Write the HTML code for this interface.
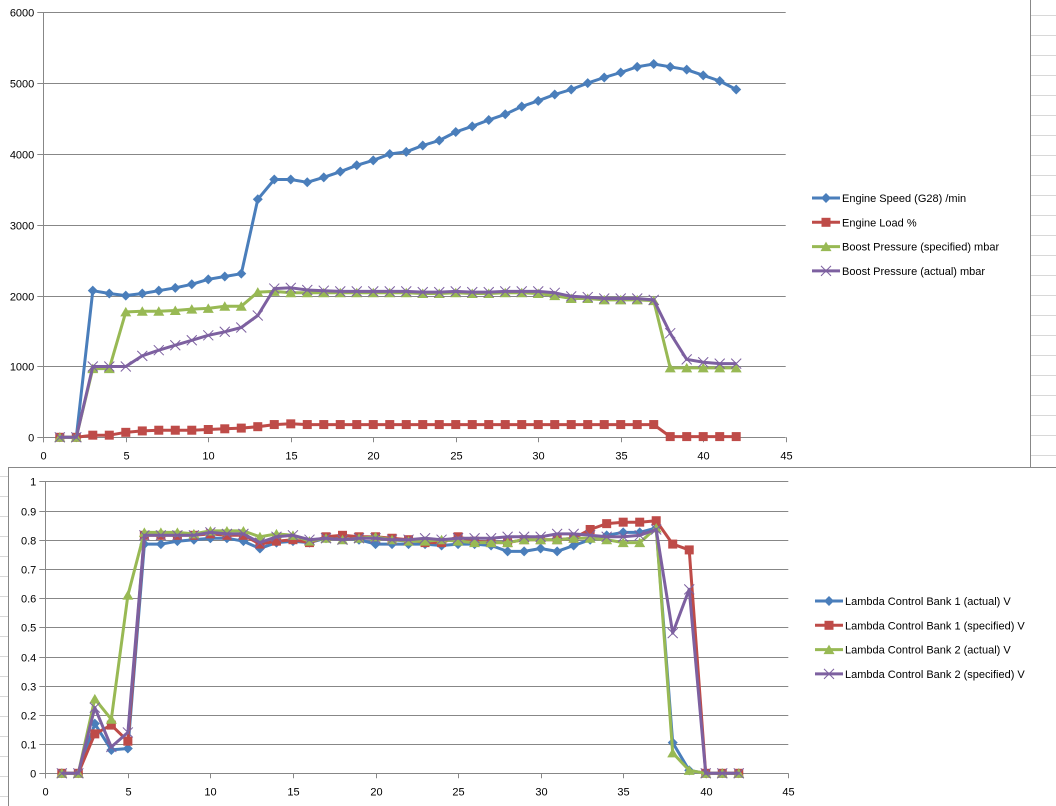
<!DOCTYPE html>
<html><head><meta charset="utf-8">
<style>
html,body{margin:0;padding:0;background:#fff;}
body{width:1056px;height:806px;overflow:hidden;position:relative;font-family:"Liberation Sans",sans-serif;}
svg{position:absolute;left:0;top:0;}
text{font-family:"Liberation Sans",sans-serif;font-size:11px;fill:#000;}
</style></head>
<body>
<svg id="s" width="1056" height="806"></svg>
<script>
const xs = Array.from({length:42},(_,i)=>i+1);
const engineSpeed=[0,0,2070,2030,2000,2030,2070,2110,2160,2230,2270,2310,3360,3640,3640,3600,3670,3750,3840,3910,4000,4030,4120,4190,4310,4390,4480,4560,4670,4750,4840,4910,5000,5080,5150,5230,5270,5230,5190,5110,5030,4910];
const engineLoad=[0,0,30,30,70,90,100,100,100,110,120,130,150,180,190,180,180,180,180,180,180,180,180,180,180,180,180,180,180,180,180,180,180,180,180,180,180,10,10,10,10,10];
const boostSpec=[0,0,970,970,1770,1780,1780,1790,1810,1820,1850,1850,2050,2060,2040,2040,2040,2040,2040,2040,2040,2040,2030,2030,2040,2030,2030,2040,2040,2030,2000,1960,1960,1940,1940,1940,1930,980,980,980,980,980];
const boostAct=[0,0,1000,1000,1000,1150,1230,1300,1370,1440,1490,1550,1720,2100,2110,2080,2070,2060,2060,2060,2060,2060,2050,2050,2060,2050,2050,2060,2060,2060,2040,1990,1980,1960,1960,1960,1940,1470,1100,1060,1040,1040];
const lam1Act=[0,0,0.17,0.08,0.085,0.785,0.785,0.795,0.8,0.805,0.805,0.795,0.77,0.79,0.795,0.79,0.805,0.805,0.8,0.785,0.785,0.785,0.785,0.78,0.785,0.785,0.78,0.76,0.76,0.77,0.76,0.78,0.8,0.815,0.825,0.825,0.84,0.105,0.01,0,0,0];
const lam1Spec=[0,0,0.135,0.165,0.11,0.815,0.815,0.815,0.815,0.82,0.815,0.815,0.785,0.795,0.8,0.79,0.81,0.815,0.81,0.81,0.805,0.8,0.79,0.79,0.81,0.795,0.79,0.79,0.8,0.8,0.8,0.805,0.835,0.855,0.86,0.86,0.865,0.785,0.765,0,0,0];
const lam2Act=[0,0,0.255,0.185,0.61,0.825,0.825,0.825,0.82,0.83,0.83,0.83,0.81,0.82,0.815,0.795,0.805,0.8,0.805,0.81,0.8,0.795,0.795,0.8,0.795,0.79,0.79,0.79,0.8,0.8,0.8,0.805,0.805,0.8,0.79,0.79,0.84,0.07,0.01,0,0,0];
const lam2Spec=[0,0,0.225,0.09,0.14,0.815,0.815,0.815,0.815,0.825,0.82,0.82,0.79,0.81,0.815,0.8,0.805,0.8,0.805,0.805,0.8,0.8,0.805,0.8,0.805,0.805,0.805,0.81,0.81,0.81,0.82,0.82,0.815,0.81,0.81,0.815,0.835,0.48,0.63,0,0,0];
const xTicks=[0,5,10,15,20,25,30,35,40,45];
const yTicksTop=[0,1000,2000,3000,4000,5000,6000];
const yTicksBot=[0,0.1,0.2,0.3,0.4,0.5,0.6,0.7,0.8,0.9,1];
const legendTop=["Engine Speed (G28)  /min","Engine Load  %","Boost Pressure (specified)  mbar","Boost Pressure (actual)  mbar"];
const legendBot=["Lambda Control Bank 1 (actual)  V","Lambda Control Bank 1 (specified)  V","Lambda Control Bank 2 (actual)  V","Lambda Control Bank 2 (specified)  V"];

const NS="http://www.w3.org/2000/svg";
const svg=document.getElementById('s');
function el(tag,attrs,parent){const e=document.createElementNS(NS,tag);for(const k in attrs)e.setAttribute(k,attrs[k]);(parent||svg).appendChild(e);return e;}
const COLORS=['#4a7ebb','#be4b48','#98b954','#7d60a0'];
const MARK=['diamond','square','triangle','x'];

// spreadsheet background lines
for(let y=15;y<467;y+=20){const l=el('line',{x1:1031,x2:1056,y1:y+.5,y2:y+.5,stroke:'#d8d8d8'});}
for(let y=476;y<806;y+=20){const l=el('line',{x1:0,x2:8,y1:y+.5,y2:y+.5,stroke:'#d8d8d8'});}
let b1=el('line',{x1:1030.5,x2:1030.5,y1:0,y2:467,stroke:'#888'});


let b2=el('line',{x1:8,x2:1056,y1:467.5,y2:467.5,stroke:'#888'});


let b3=el('line',{x1:8.5,x2:8.5,y1:467,y2:806,stroke:'#888'});



function marker(g,type,x,y,c){
  let m;
  if(type==='diamond')m=el('polygon',{points:`${x},${y-5} ${x+5},${y} ${x},${y+5} ${x-5},${y}`,fill:c},g);
  else if(type==='square')m=el('rect',{x:x-4.5,y:y-4.5,width:9,height:9,fill:c},g);
  else if(type==='triangle')m=el('polygon',{points:`${x},${y-5} ${x+5.5},${y+4.5} ${x-5.5},${y+4.5}`,fill:c},g);
  else{m=el('path',{d:`M${x-5},${y-5}L${x+5},${y+5}M${x+5},${y-5}L${x-5},${y+5}`,stroke:c,'stroke-width':1},g);}
  
  
}

function chart(cfg){
  const {x0,x1,y0,y1,ymax,yTicks,fmt,series,legend,ly,lx,name}=cfg;
  const X=v=>x0+(v/45)*(x1-x0);
  const Y=v=>y0-(v/ymax)*(y0-y1);
  const g=el('g',{});
  
  
  yTicks.forEach(t=>{
    const y=Math.round(Y(t))+.5;
    const gl=el('line',{x1:x0-6,x2:x1,y1:y,y2:y,stroke:'#878787'},g);
    
    
    const tx=el('text',{x:x0-9,y:y+4,'text-anchor':'end'},g);tx.textContent=fmt(t);
    
    
  });
  const ax=el('line',{x1:Math.round(x0)+.5,x2:Math.round(x0)+.5,y1:y1,y2:y0+5,stroke:'#878787'},g);
  
  
  xTicks.forEach(t=>{
    const x=Math.round(X(t))+.5;
    const tk=el('line',{x1:x,x2:x,y1:y0,y2:y0+5,stroke:'#878787'},g);
    
    
    const tx=el('text',{x:x,y:y0+22,'text-anchor':'middle'},g);tx.textContent=t;
    
    
  });
  series.forEach((s,i)=>{
    const sg=el('g',{},g);
    
    
    const pts=s.map((v,j)=>X(xs[j]).toFixed(1)+','+Y(v).toFixed(1)).join(' ');
    const pl=el('polyline',{points:pts,fill:'none',stroke:COLORS[i],'stroke-width':3,'stroke-linejoin':'round'},sg);
    
    
    s.forEach((v,j)=>marker(sg,MARK[i],X(xs[j]),Y(v),COLORS[i]));
  });
  legend.forEach((t,i)=>{
    const y=ly+i*24.3;
    const lg=el('g',{},g);
    
    
    el('line',{x1:lx,x2:lx+28,y1:y,y2:y,stroke:COLORS[i],'stroke-width':3},lg);
    marker(lg,MARK[i],lx+14,y,COLORS[i]);
    const tx=el('text',{x:lx+30,y:y+4},lg);tx.textContent=t;
  });
}
chart({name:'engine-speed-boost-chart',x0:43.3,x1:785.7,y0:437.3,y1:12.3,ymax:6000,yTicks:yTicksTop,fmt:t=>t,series:[engineSpeed,engineLoad,boostSpec,boostAct],legend:legendTop,ly:198,lx:812});
chart({name:'lambda-control-chart',x0:45.3,x1:788.3,y0:773.3,y1:481.3,ymax:1,yTicks:yTicksBot,fmt:t=>String(t),series:[lam1Act,lam1Spec,lam2Act,lam2Spec],legend:legendBot,ly:601,lx:815});
</script>
</body></html>
